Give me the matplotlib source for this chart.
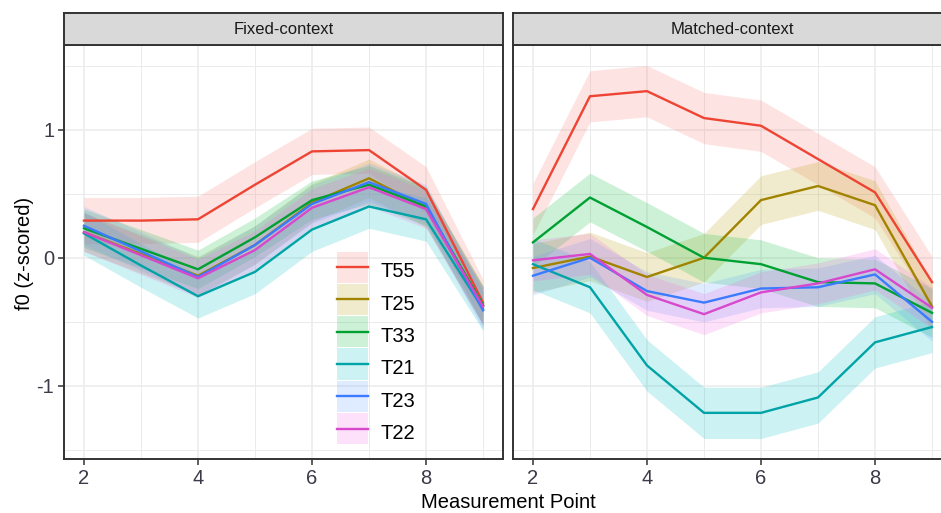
import matplotlib
matplotlib.use('Agg')
import matplotlib.pyplot as plt
from matplotlib.patches import Patch, Rectangle
from matplotlib.lines import Line2D
from matplotlib.legend_handler import HandlerPatch

plt.rcParams['font.family'] = ['Liberation Sans', 'DejaVu Sans']
plt.rcParams['axes.unicode_minus'] = False

# measurement points
points = [2, 3, 4, 5, 6, 7, 8, 9]
tones = ['T55', 'T25', 'T33', 'T21', 'T23', 'T22']

# mean f0 per tone, fixed context
fixed_T55 = [0.29, 0.29, 0.30, 0.57, 0.83, 0.84, 0.53, -0.35]
fixed_T25 = [0.20, 0.03, -0.14, 0.10, 0.43, 0.62, 0.39, -0.37]
fixed_T33 = [0.23, 0.07, -0.09, 0.16, 0.45, 0.57, 0.40, -0.37]
fixed_T21 = [0.19, -0.06, -0.30, -0.11, 0.22, 0.40, 0.30, -0.40]
fixed_T23 = [0.25, 0.05, -0.15, 0.10, 0.42, 0.59, 0.42, -0.41]
fixed_T22 = [0.20, 0.02, -0.16, 0.06, 0.39, 0.55, 0.38, -0.38]

# mean f0 per tone, matched context
matched_T55 = [0.38, 1.26, 1.30, 1.09, 1.03, 0.77, 0.51, -0.19]
matched_T25 = [-0.08, 0.01, -0.15, 0.00, 0.45, 0.56, 0.41, -0.38]
matched_T33 = [0.12, 0.47, 0.24, 0.00, -0.05, -0.19, -0.20, -0.43]
matched_T21 = [-0.05, -0.23, -0.84, -1.21, -1.21, -1.09, -0.66, -0.54]
matched_T23 = [-0.14, 0.00, -0.26, -0.35, -0.24, -0.23, -0.13, -0.50]
matched_T22 = [-0.02, 0.03, -0.29, -0.44, -0.27, -0.20, -0.09, -0.39]

# half width of the confidence ribbons
fixed_band = [0.18, 0.15, 0.15, 0.17, 0.15, 0.15]
matched_band = [0.20, 0.19, 0.19, 0.20, 0.15, 0.16]

line_colors = ['#EE4433', '#A08400', '#00A032', '#00A3A6', '#3A7BFF', '#D848CC']
fill_colors = ['#F8766D', '#B79F00', '#00BA38', '#00BFC4', '#619CFF', '#F564E3']

panels = [
    ('Fixed-context', [fixed_T55, fixed_T25, fixed_T33, fixed_T21, fixed_T23, fixed_T22], fixed_band),
    ('Matched-context', [matched_T55, matched_T25, matched_T33, matched_T21, matched_T23, matched_T22], matched_band),
]


def tall_key(legend, orig_handle, xdescent, ydescent, width, height, fontsize):
    # key box centred on the key line, like ggplot
    return Rectangle((-xdescent, -0.5 * ydescent - 1.2), width, height + 2.4)


fig = plt.figure(figsize=(9.41, 5.13), dpi=100)
W, H = 941.0, 513.0
lefts = [64, 513]
pw = 439
top, bottom = 45, 459
strip_top = 13

axes = []
for i, (title, series, band) in enumerate(panels):
    ax = fig.add_axes([lefts[i] / W, 1 - bottom / H, pw / W, (bottom - top) / H])
    axes.append(ax)
    for vals, b, fc in zip(series, band, fill_colors):
        lo = [v - b for v in vals]
        hi = [v + b for v in vals]
        ax.fill_between(points, lo, hi, color=fc, alpha=0.2, lw=0)
    for vals, lc in zip(series, line_colors):
        ax.plot(points, vals, color=lc, lw=1.7)

    ax.set_xlim(1.65, 9.35)
    ax.set_ylim(-1.57, 1.66)
    ax.set_xticks([2, 4, 6, 8])
    ax.set_xticks([3, 5, 7, 9], minor=True)
    ax.set_yticks([-1, 0, 1])
    ax.set_yticks([-1.5, -0.5, 0.5, 1.5], minor=True)
    ax.grid(which='major', color='#EBEBEB', lw=1.1)
    ax.grid(which='minor', color='#EBEBEB', lw=0.7)
    ax.set_axisbelow(True)
    for s in ax.spines.values():
        s.set_color('#333333')
        s.set_linewidth(1.4)
    ax.tick_params(which='minor', length=0)
    ax.tick_params(which='major', length=4, width=1.1, color='#333333',
                   labelsize=14.5, labelcolor='#3a3a48', pad=3)
    if i == 1:
        ax.tick_params(axis='y', which='major', left=False, labelleft=False)

    sax = fig.add_axes([lefts[i] / W, 1 - top / H, pw / W, (top - strip_top) / H])
    sax.set_facecolor('#D9D9D9')
    sax.set_xticks([])
    sax.set_yticks([])
    for s in sax.spines.values():
        s.set_color('#333333')
        s.set_linewidth(1.4)
    sax.text(0.5, 0.48, title, transform=sax.transAxes, ha='center', va='center',
             fontsize=12, color='#1a1a1a')

fig.text(25 / W, 1 - 253 / H, 'f0 (z-scored)', rotation=90, ha='center', va='center', fontsize=14.5)
fig.text(508 / W, 1 - 502 / H, 'Measurement Point', ha='center', va='center', fontsize=14.5)

handles = [(Patch(facecolor=fc, alpha=0.2, edgecolor='none'), Line2D([], [], color=lc, lw=1.7))
           for fc, lc in zip(fill_colors, line_colors)]
axes[0].legend(handles, tones, loc='upper left',
               bbox_to_anchor=((337 - 64) / pw, (bottom - 257) / (bottom - top)),
               frameon=False, fontsize=14.5, borderaxespad=0, borderpad=0,
               handlelength=1.55, handleheight=1.75, labelspacing=0.22, handletextpad=0.6,
               handler_map={Patch: HandlerPatch(patch_func=tall_key)})

fig.savefig('out.png', dpi=100)
